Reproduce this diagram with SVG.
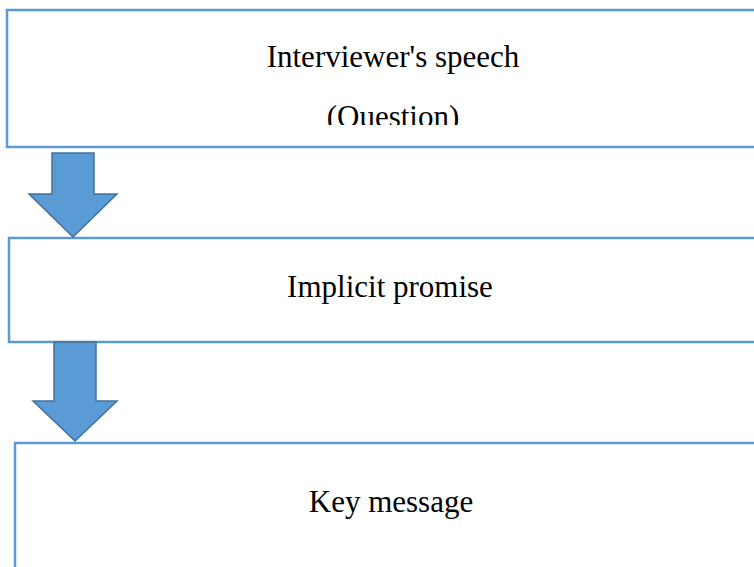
<svg xmlns="http://www.w3.org/2000/svg" width="754" height="567" viewBox="0 0 754 567">
<style>
.box{fill:#ffffff;stroke:#5B9BD5;stroke-width:2.5}
.arrow{fill:#5B9BD5;stroke:#41719C;stroke-width:1.5;stroke-linejoin:miter}
.lbl{font-family:"Liberation Serif","Times New Roman",serif;font-size:31px;fill:#000000;text-anchor:middle}
</style>
<defs>
<clipPath id="clip1"><rect x="0" y="10" width="754" height="115"/></clipPath>
</defs>
<rect width="754" height="567" fill="#ffffff"/>
<g id="node-speech">
<rect class="box" x="7" y="10" width="780" height="137"/>
<g clip-path="url(#clip1)">
<text class="lbl" x="393" y="67">Interviewer's speech</text>
<text class="lbl" x="393" y="127">(Question)</text>
</g>
</g>
<g id="node-promise">
<rect class="box" x="9" y="238" width="780" height="104"/>
<text class="lbl" x="390" y="297">Implicit promise</text>
</g>
<g id="node-key">
<rect class="box" x="15" y="443" width="780" height="160"/>
<text class="lbl" x="391" y="512">Key message</text>
</g>
<g id="connectors">
<polygon class="arrow" points="52,153 94,153 94,194 117,194 73,237 29,194 52,194"/>
<polygon class="arrow" points="54,342 96,342 96,401 117,401 75,441 33,401 54,401"/>
</g>
</svg>
